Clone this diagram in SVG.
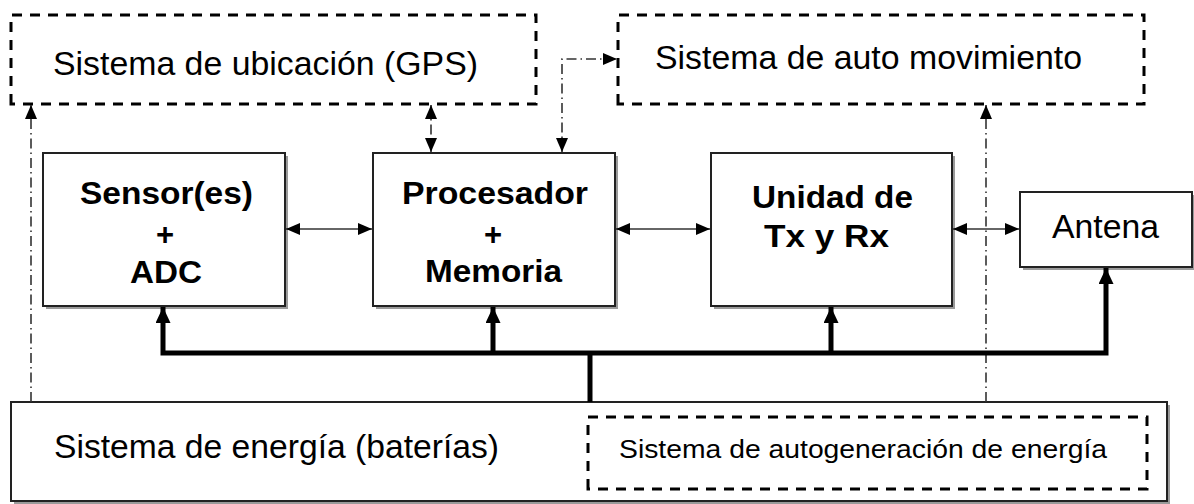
<svg xmlns="http://www.w3.org/2000/svg" width="1194" height="504" viewBox="0 0 1194 504">
<style>
text{font-family:"Liberation Sans",Arial,sans-serif;fill:#000}
.r{font-size:34px}
.b{font-size:31px;font-weight:bold}
.s{font-size:26px}
.box{fill:#fff;stroke:#222;stroke-width:2}
.sh{fill:#9a9a9a}
.dbox{fill:none;stroke:#000;stroke-width:3;stroke-dasharray:10 8}
.thin{fill:none;stroke:#333;stroke-width:1.6}
.dd{fill:none;stroke:#333;stroke-width:1.6;stroke-dasharray:10 4 1.5 4}
.bus{fill:none;stroke:#000;stroke-width:5}
</style>
<defs>
<marker id="a" markerUnits="userSpaceOnUse" markerWidth="14" markerHeight="12" refX="14" refY="6" orient="auto-start-reverse"><path d="M0,0 L14,6 L0,12 z" fill="#000"/></marker>
<marker id="ab" markerUnits="userSpaceOnUse" markerWidth="16" markerHeight="15" refX="16" refY="7.5" orient="auto-start-reverse"><path d="M0,0 L16,7.5 L0,15 z" fill="#000"/></marker>
</defs>
<rect width="1194" height="504" fill="#fff"/>

<g id="gps">
<path class="dbox" d="M11,104 V15 H536 V104 Z"/>
<text class="r" x="53" y="75" textLength="425" lengthAdjust="spacingAndGlyphs">Sistema de ubicación (GPS)</text>
</g>
<g id="auto">
<path class="dbox" d="M618,104 V15 H1144 V104 Z"/>
<text class="r" x="655" y="69" textLength="427" lengthAdjust="spacingAndGlyphs">Sistema de auto movimiento</text>
</g>
<g id="sensor">
<rect class="sh" x="46" y="156" width="242" height="153"/>
<rect class="box" x="43" y="153" width="242" height="153"/>
<text class="b" x="80" y="204" textLength="173" lengthAdjust="spacingAndGlyphs">Sensor(es)</text>
<text class="b" x="165" y="245" text-anchor="middle">+</text>
<text class="b" x="130" y="283" textLength="72" lengthAdjust="spacingAndGlyphs">ADC</text>
</g>
<g id="procesador">
<rect class="sh" x="376" y="156" width="242" height="153"/>
<rect class="box" x="373" y="153" width="242" height="153"/>
<text class="b" x="402" y="204" textLength="186" lengthAdjust="spacingAndGlyphs">Procesador</text>
<text class="b" x="493" y="245" text-anchor="middle">+</text>
<text class="b" x="425" y="282" textLength="137" lengthAdjust="spacingAndGlyphs">Memoria</text>
</g>
<g id="unidad">
<rect class="sh" x="714" y="156" width="241" height="153"/>
<rect class="box" x="711" y="153" width="241" height="153"/>
<text class="b" x="752" y="208" textLength="161" lengthAdjust="spacingAndGlyphs">Unidad de</text>
<text class="b" x="764" y="247" textLength="125" lengthAdjust="spacingAndGlyphs">Tx y Rx</text>
</g>
<g id="antena">
<rect class="sh" x="1023" y="195" width="172" height="75"/>
<rect class="box" x="1020" y="192" width="172" height="75"/>
<text class="r" x="1052" y="238" textLength="107" lengthAdjust="spacingAndGlyphs">Antena</text>
</g>
<g id="energia">
<rect class="sh" x="14" y="405" width="1156" height="99"/>
<rect class="box" x="11" y="402" width="1156" height="99"/>
<text class="r" x="54" y="458" textLength="445" lengthAdjust="spacingAndGlyphs">Sistema de energía (baterías)</text>
</g>
<g id="autogeneracion">
<path class="dbox" d="M588,489 V417 H1147 V489 Z"/>
<text class="s" x="619" y="458" textLength="488" lengthAdjust="spacingAndGlyphs">Sistema de autogeneración de energía</text>
</g>

<g id="connectors">
<line class="thin" x1="286" y1="229" x2="372" y2="229" marker-start="url(#a)" marker-end="url(#a)"/>
<line class="thin" x1="616" y1="229" x2="710" y2="229" marker-start="url(#a)" marker-end="url(#a)"/>
<line class="thin" x1="953" y1="229" x2="1019" y2="229" marker-start="url(#a)" marker-end="url(#a)"/>
<line class="dd" x1="431" y1="105" x2="431" y2="152" marker-start="url(#a)" marker-end="url(#a)"/>
<path class="dd" d="M562,152 V59 H617" marker-start="url(#a)" marker-end="url(#a)"/>
<line class="dd" x1="31" y1="402" x2="31" y2="105" marker-end="url(#a)"/>
<line class="dd" x1="986" y1="402" x2="986" y2="105" marker-end="url(#a)"/>
<path class="bus" d="M163,307 V353 H1106 V268" marker-start="url(#ab)" marker-end="url(#ab)"/>
<line class="bus" x1="493" y1="353" x2="493" y2="307" marker-end="url(#ab)"/>
<line class="bus" x1="831" y1="353" x2="831" y2="307" marker-end="url(#ab)"/>
<line class="bus" x1="590" y1="353" x2="590" y2="402"/>
</g>
</svg>
